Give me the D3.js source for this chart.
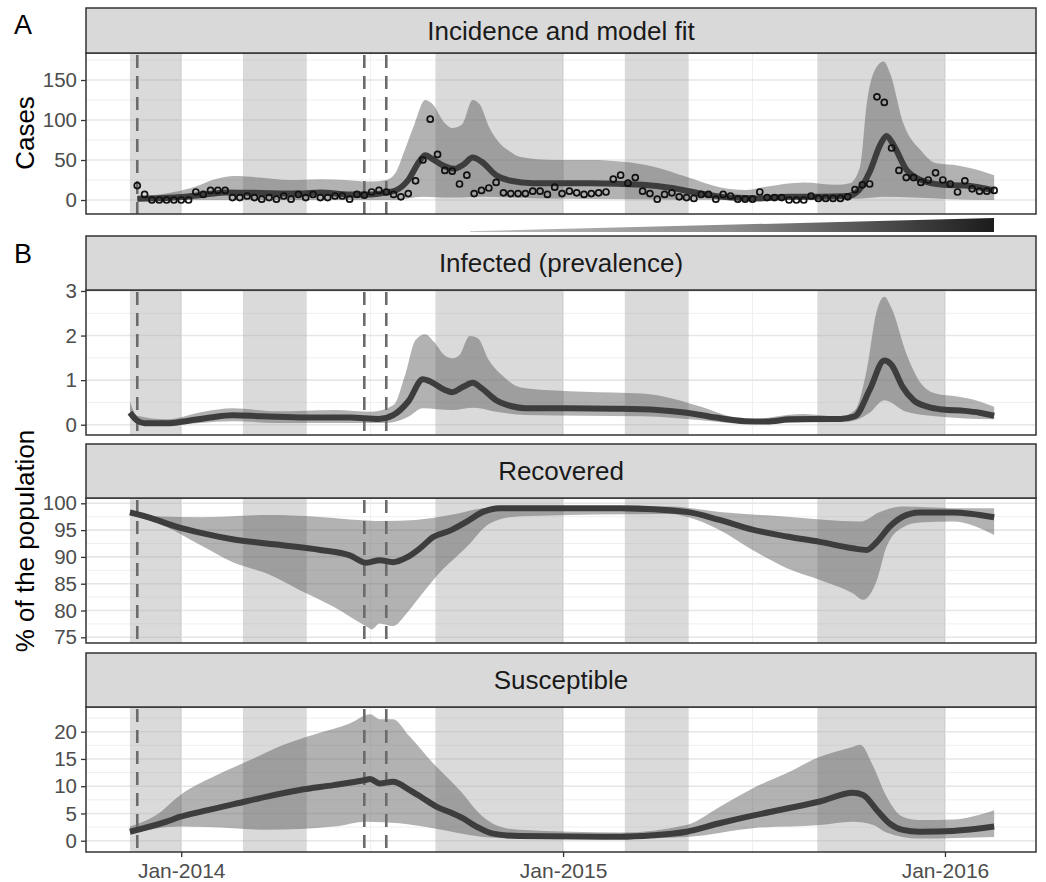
<!DOCTYPE html>
<html>
<head>
<meta charset="utf-8">
<script src="https://cdn.jsdelivr.net/npm/d3@7"></script>
<style>
body { margin: 0; background: #fff; }
text { font-family: "Liberation Sans", Arial, sans-serif; }
</style>
</head>
<body>
<svg id="chart" width="1046" height="882"></svg>
<script>
// weekly series, week 0 = 13 Nov 2013
var firstWeek = new Date(2013, 10, 13);

// observed weekly cases, weeks 1..118
var obsCases = [18,7,0,0,0,0,0,0,10,7,12,12,12,3,3,5,3,1,3,1,5,1,7,3,7,3,3,5,5,1,7,6,10,12,10,7,4,8,24,50,101,57,37,36,20,31,8,12,15,22,9,8,8,
  8,11,11,7,16,8,11,9,7,8,9,10,26,31,21,28,11,8,1,7,9,4,3,2,7,7,1,7,5,1,1,1,10,3,3,3,0,0,0,5,2,2,2,2,4,13,19,20,129,122,65,37,28,28,22,25,34,25,20,10,24,14,11,11,12];

// model fit, [week, value]
var fitMid = [[1,1.5],[6,3],[9.5,6],[13,9.5],[17,9],[23,8],[26,9.5],[30,7],[33,7],[35,9.5],[36.3,12],[38,25],[39.5,48],[40.3,56],[41.5,50],[43,42],[44.3,39],[45.5,44],[46.8,53],[48,48],[50,31],[52,24],[55,21],[63,21],[70,19],[74,15],[78,8],[82,3],[86,2],[90,4],[94,4],[98,5],[99.5,12],[101,35],[102.5,70],[103.3,80],[104.3,68],[106,38],[108,25],[111,19],[114,18],[118,12]];
var fitHi = [[1,4],[6,10],[9,17],[11.6,26],[14.3,30],[17.7,28],[21.8,25],[26,26],[29.4,25],[32.8,23],[35,25],[36.2,33],[37.5,62],[38.9,96],[40.3,125],[41.2,121],[43,96],[44,90],[45.3,94],[46.8,125],[47.8,119],[49,92],[50.5,71],[52,60],[53.2,54],[58,50],[63,50],[67,48],[71.4,42],[76,29],[80.5,16],[84,12.5],[87,17],[92,22],[96.5,19],[98.3,21],[99.7,42],[100.6,120],[101.5,158],[102.9,173],[103.8,158],[105.6,96],[108,62],[110.1,46],[112.4,44],[114.7,40],[118,31]];
var fitLo = [[1,0],[10,0],[20,0],[36,0],[38,2],[40,4],[44,3],[48,4],[52,3],[56,2],[70,1],[85,0],[95,0.5],[100,2],[103,4],[107,3],[112,1],[118,0]];

var infMid = [[0,0.27],[1,0.09],[2,0.03],[5,0.03],[8,0.09],[11,0.16],[14,0.21],[18,0.19],[24,0.16],[30,0.16],[34,0.13],[36,0.22],[38,0.52],[40,1.02],[41,0.97],[43,0.78],[44,0.73],[45.5,0.85],[46.8,0.94],[48,0.82],[50,0.55],[52,0.42],[54,0.37],[60,0.37],[66,0.36],[72,0.33],[76,0.27],[80,0.16],[84,0.08],[87,0.07],[90,0.12],[93,0.13],[97,0.13],[99,0.19],[101,0.78],[103,1.44],[104,1.34],[105.5,0.85],[107,0.55],[109,0.40],[111,0.34],[114,0.31],[116,0.27],[118,0.20]];
var infHi = [[0,0.52],[1,0.2],[5,0.12],[10,0.29],[14,0.37],[20,0.3],[28,0.33],[33,0.29],[36,0.44],[37.5,1.08],[39,1.9],[40.3,2.03],[41.5,1.86],[43,1.55],[44,1.49],[45,1.56],[46.4,1.99],[47.5,1.94],[49,1.45],[51,1.08],[53,0.85],[54,0.82],[62,0.74],[70,0.70],[74,0.59],[78,0.40],[82,0.18],[85,0.10],[88,0.18],[92,0.24],[97,0.18],[99,0.33],[100.5,1.15],[102,2.57],[103,2.87],[104,2.61],[106,1.6],[108,0.93],[110,0.70],[113,0.63],[116,0.52],[118,0.40]];
var infLo = [[0,0.18],[1,0.03],[5,0],[14,0.08],[20,0.04],[30,0.04],[35,0.04],[38,0.18],[40,0.37],[44,0.33],[47,0.38],[50,0.29],[54,0.22],[70,0.19],[78,0.10],[84,0.02],[90,0.04],[98,0.07],[101,0.27],[103,0.55],[106,0.29],[110,0.19],[118,0.12]];

var recMid = [[0,98.3],[3,97.2],[6,95.8],[10,94.4],[14,93.3],[20,92.3],[26,91.3],[30,90.3],[32.3,88.9],[34.1,89.4],[35.9,89.0],[37.8,89.9],[39.6,91.6],[41.4,93.7],[43.7,94.9],[46,96.6],[48.2,98.4],[50.5,99.1],[67,99.1],[76,98.4],[80.5,96.9],[85,95.1],[89.7,93.8],[94.2,92.8],[98.7,91.6],[100.6,91.3],[102,92.8],[103.7,95.6],[105.5,97.5],[107.8,98.3],[112.4,98.3],[118,97.4]];
var recHi = [[0,98.8],[3.3,97.6],[9.6,97.4],[18.7,97.8],[25.5,97.5],[30,97.0],[34.6,96.7],[39,96.9],[43.7,97.8],[48.2,99.1],[53.3,99.5],[73.7,99.4],[80.5,98.4],[89.7,97.5],[99.7,96.6],[102.4,98.4],[105.5,99.4],[112.4,99.1],[118,99.1]];
var recLo = [[0,97.8],[5,95.6],[9.6,92.2],[14.2,88.9],[18.7,86.9],[23.2,83.8],[27.8,80.7],[32.3,77.0],[33,76.5],[34.1,77.6],[35.9,77.1],[37.8,79.5],[39.6,82.6],[41.8,86.3],[46,91.9],[49.2,96.3],[53.3,97.6],[73.7,98.0],[76,97.5],[80.5,95.0],[85,91.3],[89.7,87.9],[94.2,85.7],[98.7,83.2],[100.1,82.0],[102,85.7],[103.3,91.9],[105.5,95.5],[107.8,96.4],[112.4,96.6],[118,94.1]];

var susMid = [[0,1.65],[5,3.5],[6.9,4.4],[9.6,5.3],[14.2,6.7],[18.7,8.1],[23.2,9.3],[27.8,10.2],[32,11.1],[32.8,11.3],[34.1,10.5],[35.9,10.8],[38.2,9.3],[40,7.8],[41.9,6.2],[44.1,5.0],[45.5,4.1],[47.3,2.6],[49.6,1.3],[53.2,0.86],[67,0.73],[71.4,1.0],[76,1.65],[80.5,3.2],[85,4.6],[89.7,5.9],[94.2,7.2],[98.7,8.8],[100.1,8.4],[102,5.6],[103.7,3.2],[105.5,2.0],[107.8,1.65],[112.4,1.8],[118,2.6]];
var susHi = [[0,2.6],[3.6,4.7],[6.9,8.4],[11.8,12.0],[16.4,14.8],[21,17.6],[25.5,19.6],[30,21.5],[32.8,23.2],[34.1,22.3],[35.9,22.3],[38.2,19.1],[41.4,14.2],[45,9.3],[48.2,4.4],[50.5,2.6],[53.2,2.0],[67,1.5],[76,2.9],[80.5,6.2],[85,9.6],[89.7,12.4],[94.2,15.4],[98.7,17.2],[99.7,17.6],[101.5,13.6],[103.3,8.1],[105.5,4.4],[107.8,3.8],[112.4,3.9],[118,5.6]];
var susLo = [[0,1.35],[6.9,2.6],[14.2,2.3],[18.7,2.0],[27.8,2.6],[32.3,3.5],[36.8,3.2],[41.4,2.3],[48.2,0.7],[53.2,0.4],[67,0.37],[76,0.7],[85,2.3],[94.2,2.9],[98.7,3.5],[101.5,2.9],[103.3,1.5],[107.8,0.4],[118,0.7]];

// shaded seasons and dashed event dates
var seasons = [[new Date(2013,10,13), new Date(2014,0,1)], [new Date(2014,2,1), new Date(2014,4,1)],
               [new Date(2014,8,1), new Date(2015,0,1)], [new Date(2015,2,1), new Date(2015,4,1)],
               [new Date(2015,8,1), new Date(2016,0,1)]];
var events = [new Date(2013,10,20), new Date(2014,5,25), new Date(2014,6,16)];

var yearTicks = [new Date(2014,0,1), new Date(2015,0,1), new Date(2016,0,1)];
var midYear = [new Date(2014,6,1), new Date(2015,6,1)];

function wk(w) { return new Date(firstWeek.getTime() + w * 7 * 864e5); }

var svg = d3.select('#chart');
var x = d3.scaleTime()
    .domain([new Date(2013,9,2), new Date(2016,2,28)])
    .range([86, 1036]);

var defs = svg.append('defs');

var panels = [
  {title: 'Incidence and model fit', top: 8, strip: 45, bottom: 214, dom: [-17.5, 183.75], ticks: [0,50,100,150], minor: [25,75,125,175], mid: fitMid, lo: fitLo, hi: fitHi},
  {title: 'Infected (prevalence)', top: 236, strip: 54, bottom: 435, dom: [-0.231, 3.022], ticks: [0,1,2,3], minor: [0.5,1.5,2.5], mid: infMid, lo: infLo, hi: infHi},
  {title: 'Recovered', top: 444, strip: 54, bottom: 643, dom: [73.94, 100.99], ticks: [75,80,85,90,95,100], minor: [77.5,82.5,87.5,92.5,97.5], mid: recMid, lo: recLo, hi: recHi},
  {title: 'Susceptible', top: 653, strip: 54, bottom: 852, dom: [-2.07, 24.53], ticks: [0,5,10,15,20], minor: [2.5,7.5,12.5,17.5,22.5], mid: susMid, lo: susLo, hi: susHi}
];

var x0 = x.range()[0], x1 = x.range()[1];

panels.forEach(function(p, i) {
  var ptop = p.top + p.strip;
  var y = d3.scaleLinear().domain(p.dom).range([p.bottom, ptop]);
  var g = svg.append('g');

  defs.append('clipPath').attr('id', 'clip' + i)
    .append('rect').attr('x', x0).attr('y', ptop).attr('width', x1 - x0).attr('height', p.bottom - ptop);

  g.append('rect').attr('x', x0).attr('y', ptop).attr('width', x1 - x0).attr('height', p.bottom - ptop).attr('fill', '#fff');

  // grid
  g.selectAll('.hmin').data(p.minor).enter().append('line')
    .attr('x1', x0).attr('x2', x1).attr('y1', d => y(d)).attr('y2', d => y(d))
    .attr('stroke', '#efefef').attr('stroke-width', 1);
  g.selectAll('.vmin').data(midYear).enter().append('line')
    .attr('x1', d => x(d)).attr('x2', d => x(d)).attr('y1', ptop).attr('y2', p.bottom)
    .attr('stroke', '#efefef').attr('stroke-width', 1);
  g.selectAll('.hmaj').data(p.ticks).enter().append('line')
    .attr('x1', x0).attr('x2', x1).attr('y1', d => y(d)).attr('y2', d => y(d))
    .attr('stroke', '#e6e6e6').attr('stroke-width', 1.6);
  g.selectAll('.vmaj').data(yearTicks).enter().append('line')
    .attr('x1', d => x(d)).attr('x2', d => x(d)).attr('y1', ptop).attr('y2', p.bottom)
    .attr('stroke', '#e6e6e6').attr('stroke-width', 1.6);

  var inner = g.append('g').attr('clip-path', 'url(#clip' + i + ')');

  inner.selectAll('.season').data(seasons).enter().append('rect')
    .attr('x', d => x(d[0])).attr('width', d => x(d[1]) - x(d[0]))
    .attr('y', ptop).attr('height', p.bottom - ptop)
    .attr('fill', '#aaaaaa').attr('fill-opacity', 0.44);

  var line = d3.line().x(d => x(wk(d[0]))).y(d => y(d[1])).curve(d3.curveMonotoneX);
  var ribbon = line(p.hi) + 'L' + line(p.lo.slice().reverse()).slice(1) + 'Z';
  inner.append('path').attr('d', ribbon)
    .attr('fill', '#5b5b5b').attr('fill-opacity', 0.47);

  inner.selectAll('.event').data(events).enter().append('line')
    .attr('x1', d => x(d)).attr('x2', d => x(d)).attr('y1', ptop + 2).attr('y2', p.bottom)
    .attr('stroke', '#6b6b6b').attr('stroke-width', 2.6).attr('stroke-dasharray', '13,8');

  inner.append('path').attr('d', line(p.mid))
    .attr('fill', 'none').attr('stroke', '#3d3d3d').attr('stroke-width', 6);

  if (i === 0) {
    inner.selectAll('.obs').data(obsCases).enter().append('circle')
      .attr('cx', (d, k) => x(wk(k + 1))).attr('cy', d => y(d)).attr('r', 3)
      .attr('fill', 'none').attr('stroke', '#111').attr('stroke-width', 1.7);
  }

  g.append('rect').attr('x', x0).attr('y', ptop).attr('width', x1 - x0).attr('height', p.bottom - ptop)
    .attr('fill', 'none').attr('stroke', '#333').attr('stroke-width', 1.5);

  // strip
  g.append('rect').attr('x', x0).attr('y', p.top).attr('width', x1 - x0).attr('height', p.strip)
    .attr('fill', '#d9d9d9').attr('stroke', '#333').attr('stroke-width', 1.5);
  g.append('text').attr('x', (x0 + x1) / 2).attr('y', p.top + p.strip / 2 + 9)
    .attr('text-anchor', 'middle').style('font-size', '26px').style('fill', '#1a1a1a')
    .text(p.title);

  // y axis
  var ax = g.append('g').attr('transform', 'translate(' + x0 + ',0)')
    .call(d3.axisLeft(y).tickValues(p.ticks).tickFormat(d3.format('d')).tickSize(5).tickPadding(4));
  ax.select('.domain').remove();
  ax.selectAll('line').attr('stroke', '#333').attr('stroke-width', 1.3);
  ax.selectAll('text').style('font-size', '20.5px').style('fill', '#4d4d4d')
    .style('font-family', '"Liberation Sans", Arial, sans-serif');

  if (i === panels.length - 1) {
    var bx = g.append('g').attr('transform', 'translate(0,' + p.bottom + ')')
      .call(d3.axisBottom(x).tickValues(yearTicks).tickFormat(d3.timeFormat('%b-%Y')).tickSize(5).tickPadding(6));
    bx.select('.domain').remove();
    bx.selectAll('line').attr('stroke', '#333').attr('stroke-width', 1.3);
    bx.selectAll('text').style('font-size', '21px').style('fill', '#4d4d4d')
      .style('font-family', '"Liberation Sans", Arial, sans-serif');
  }
});

// gradient wedge between A and B
var grad = defs.append('linearGradient').attr('id', 'wedge')
  .attr('gradientUnits', 'userSpaceOnUse').attr('x1', 470).attr('x2', 994).attr('y1', 0).attr('y2', 0);
grad.append('stop').attr('offset', 0).attr('stop-color', '#bdbdbd');
grad.append('stop').attr('offset', 0.5).attr('stop-color', '#8c8c8c');
grad.append('stop').attr('offset', 1).attr('stop-color', '#1c1c1c');
svg.append('path').attr('d', 'M470,231.3L994,218L994,232L470,232Z')
  .attr('fill', 'url(#wedge)');

// titles and panel letters
svg.append('text').attr('transform', 'translate(34,133) rotate(-90)')
  .attr('text-anchor', 'middle').style('font-size', '26px').style('fill', '#000').text('Cases');
svg.append('text').attr('transform', 'translate(34,541) rotate(-90)')
  .attr('text-anchor', 'middle').style('font-size', '26px').style('fill', '#000').text('% of the population');
svg.append('text').attr('x', 14).attr('y', 34).style('font-size', '27px').style('fill', '#000').text('A');
svg.append('text').attr('x', 14).attr('y', 263).style('font-size', '27px').style('fill', '#000').text('B');
</script>
</body>
</html>
